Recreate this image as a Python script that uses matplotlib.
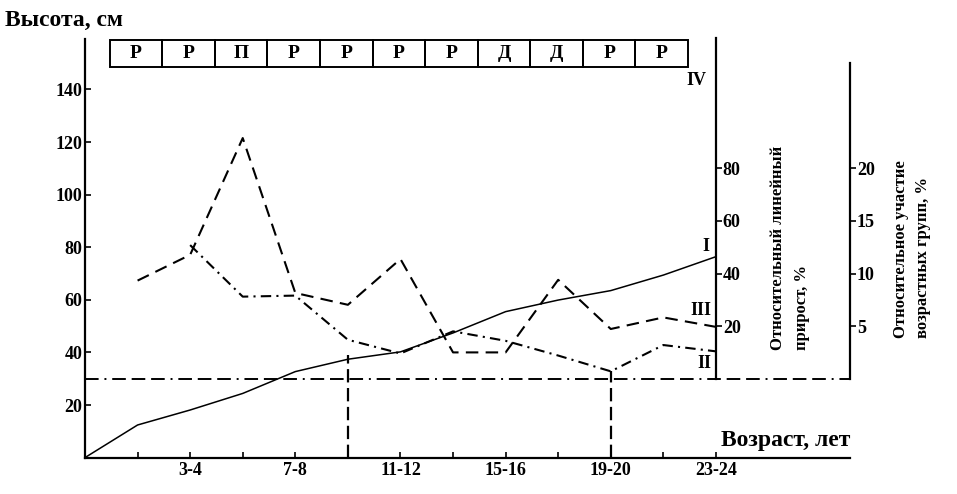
import matplotlib
matplotlib.use("Agg")
import matplotlib.pyplot as plt
from matplotlib.patches import Rectangle

plt.rcParams["font.family"] = ["Liberation Serif", "DejaVu Serif"]
plt.rcParams["font.weight"] = "bold"

# =========================
# DATA
# =========================
age_idx = list(range(0, 13))                      # 0..12, one step = 2 years
height_cm = [0, 12.4, 18.1, 24.4, 32.7, 37.4, 40.2, 47.4, 55.5, 59.9, 63.5, 69.4, 76.4]   # I

growth_idx = list(range(1, 13))
growth_pct = [37.3, 47.1, 91.5, 32.6, 28.1, 45.5, 10.0, 10.0, 37.6, 18.9, 23.3, 19.7]    # III

share_idx = list(range(2, 13))
share_pct = [12.7, 7.8, 7.9, 3.7, 2.4, 4.5, 3.6, 2.2, 0.7, 3.2, 2.6]                      # II

tick_pos = [2, 4, 6, 8, 10, 12]
tick_labels = ["3-4", "7-8", "11-12", "15-16", "19-20", "23-24"]

box_letters = ["Р", "Р", "П", "Р", "Р", "Р", "Р", "Д", "Д", "Р", "Р"]

base_cm = 30            # zero level of the right scales on the height scale
marker_ages = [5, 10]
marker_tops = [39, 33]

# =========================
# FIGURE
# =========================
W, H = 957, 494
fig = plt.figure(figsize=(W / 100, H / 100), dpi=100)

x_max = 14.55
y_max = 160
x0, x1 = 85, 850
y0 = 457.6
y1 = y0 - y_max * 2.63
ax = fig.add_axes([x0 / W, 1 - y0 / H, (x1 - x0) / W, (y0 - y1) / H])
ax.set_xlim(0, x_max)
ax.set_ylim(0, y_max)
ax.patch.set_alpha(0)

for s in ["top", "right"]:
    ax.spines[s].set_visible(False)
ax.spines["left"].set_bounds(0, 159)
for s in ["left", "bottom"]:
    ax.spines[s].set_linewidth(1.6)

ax.set_xticks(range(1, 13), minor=True)
ax.set_xticks(tick_pos)
ax.set_xticklabels(tick_labels)
ax.set_yticks(range(20, 141, 20))
ax.tick_params(axis="both", which="both", direction="in", length=4, width=1.2,
               labelsize=13)
ax.tick_params(axis="x", pad=3)
ax.tick_params(axis="y", pad=2)

# solid line I
ax.plot(age_idx, height_cm, color="black", lw=1.1)

# horizontal base line and vertical markers
hl, = ax.plot([0, x_max], [base_cm, base_cm], color="black", lw=1.4, clip_on=False)
hl.set_dashes([7, 3, 1, 3, 7, 3, 7, 3])
for xa, top in zip(marker_ages, marker_tops):
    vl, = ax.plot([xa, xa], [0, top], color="black", lw=1.6)
    vl.set_dashes([6, 2.5])

# middle scale (relative growth, %)
ax2 = ax.twinx()
ax2.set_ylim(-base_cm, y_max - base_cm)
for s in ["top", "left", "bottom"]:
    ax2.spines[s].set_visible(False)
ax2.spines["right"].set_position(("axes", 12 / x_max))
ax2.spines["right"].set_bounds(0, 129.5)
ax2.spines["right"].set_linewidth(1.6)
ax2.set_yticks([20, 40, 60, 80])
ax2.tick_params(axis="y", direction="out", length=4, width=1.2, labelsize=13, pad=1)
l3, = ax2.plot(growth_idx, growth_pct, color="black", lw=1.5)
l3.set_dashes([6, 3.5])

# right scale (relative share of age groups, %)
ax3 = ax.twinx()
ax3.set_ylim(-base_cm / 4, (y_max - base_cm) / 4)
for s in ["top", "left", "bottom"]:
    ax3.spines[s].set_visible(False)
ax3.spines["right"].set_bounds(0, 30)
ax3.spines["right"].set_linewidth(1.6)
ax3.set_yticks([5, 10, 15, 20])
ax3.tick_params(axis="y", direction="out", length=4, width=1.2, labelsize=13, pad=1)
l2, = ax3.plot(share_idx, share_pct, color="black", lw=1.5)
l2.set_dashes([5, 2.5, 1, 2.5])

# boxes on top
for k, letter in enumerate(box_letters, start=1):
    ax.add_patch(Rectangle((k - 0.53, 148.6), 1, 10.2, fill=False, lw=1.4,
                           edgecolor="black", clip_on=False))
    ax.text(k - 0.03, 153.7, letter, ha="center", va="center", fontsize=14)

# curve labels
ax.text(11.8, 80.4, "I", ha="center", va="center", fontsize=13)
ax.text(11.72, 56, "III", ha="center", va="center", fontsize=13)
ax.text(11.78, 35.6, "II", ha="center", va="center", fontsize=13)
ax.text(11.63, 143.5, "IV", ha="center", va="center", fontsize=13)

# axis titles
fig.text(5 / W, 1 - 20 / H, "Высота, см", ha="left", va="center", fontsize=17)
fig.text(850 / W, 1 - 440 / H, "Возраст, лет", ha="right", va="center", fontsize=17)
fig.text(790 / W, 1 - 350 / H, "Относительный линейный\nприрост, %", rotation=90,
         ha="center", va="bottom", multialignment="left", fontsize=12, linespacing=1.6)
fig.text(912 / W, 1 - 338 / H, "Относительное участие\nвозрастных групп, %", rotation=90,
         ha="center", va="bottom", multialignment="left", fontsize=12, linespacing=1.5)

fig.savefig("out.png", dpi=100)
